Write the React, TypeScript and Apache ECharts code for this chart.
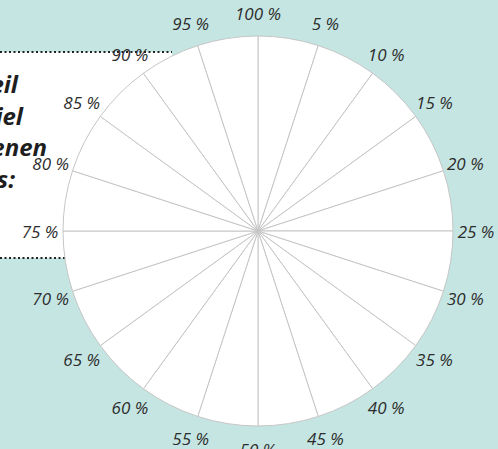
import React, { useEffect, useRef } from "react";
import * as echarts from "echarts";

const tickLabels = [
  "100 %", "5 %", "10 %", "15 %", "20 %", "25 %", "30 %", "35 %", "40 %", "45 %",
  "50 %", "55 %", "60 %", "65 %", "70 %", "75 %", "80 %", "85 %", "90 %", "95 %",
];
const sliceValues = tickLabels.map(() => 1);
const boxTextLines = ["eil", "iel", "enen", "s:"];
const boxTextRight = [18, 23, 47, 15];
const boxTextBaseline = [90, 122, 153, 185];

export default function App() {
  const ref = useRef<HTMLDivElement>(null);
  useEffect(() => {
    const chart = echarts.init(ref.current!, undefined, { renderer: "svg" });
    const center = [258, 231];
    const radius = 195;
    const labelRadius = 218;
    chart.setOption({
      animation: false,
      backgroundColor: "#c5e5e2",
      graphic: [
        { type: "rect", z: 0, shape: { x: -2, y: 52, width: 174, height: 206 }, style: { fill: "#ffffff" } },
        { type: "line", z: 1, shape: { x1: 0, y1: 52, x2: 172, y2: 52 }, style: { stroke: "#222", lineWidth: 2, lineDash: [2, 2.5] } },
        { type: "line", z: 1, shape: { x1: 0, y1: 258, x2: 70, y2: 258 }, style: { stroke: "#222", lineWidth: 2, lineDash: [2, 2.5] } },
        ...boxTextLines.map((t, i) => ({
          type: "text",
          z: 1,
          style: {
            text: t,
            x: boxTextRight[i],
            y: boxTextBaseline[i] + 5,
            textAlign: "right",
            textVerticalAlign: "bottom",
            font: "italic bold 24px 'Open Sans'",
            fill: "#1e1e1e",
          },
        })),
      ],
      polar: { center, radius: labelRadius },
      angleAxis: {
        type: "category",
        data: tickLabels,
        startAngle: 90,
        clockwise: true,
        boundaryGap: false,
        axisLine: { show: false },
        axisTick: { show: false },
        splitLine: { show: false },
        axisLabel: { show: false },
      },
      radiusAxis: {
        type: "value",
        min: 0,
        max: 1,
        show: false,
        axisLine: { show: false },
        axisLabel: { show: false },
        splitLine: { show: false },
      },
      series: [
        {
          type: "pie",
          center,
          radius,
          startAngle: 90,
          silent: true,
          z: 5,
          label: { show: false },
          labelLine: { show: false },
          itemStyle: { color: "#ffffff", borderColor: "#c6c6c6", borderWidth: 1 },
          data: sliceValues.map((v) => ({ value: v })),
        },
        {
          type: "scatter",
          coordinateSystem: "polar",
          z: 10,
          silent: true,
          symbolSize: 0,
          itemStyle: { color: "#2d2d2d", opacity: 1 },
          label: {
            show: true,
            position: "inside",
            formatter: "{b}",
            color: "#2d2d2d",
            opacity: 1,
            textBorderWidth: 0,
            fontSize: 17,
            lineHeight: 12,
            fontStyle: "italic",
            fontFamily: "'Open Sans'",
          },
          data: tickLabels.map((l) => ({ name: l, value: [1, l] })),
        },
      ],
    });
    return () => chart.dispose();
  }, []);
  return <div ref={ref} style={{ position: "fixed", left: 0, top: 0, width: 498, height: 449 }} />;
}
